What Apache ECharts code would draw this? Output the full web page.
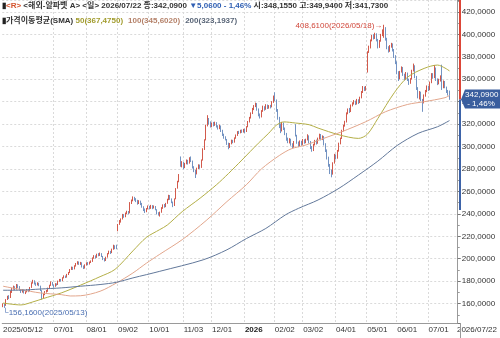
<!DOCTYPE html>
<html>
<head>
<meta charset="utf-8">
<script src="https://cdn.jsdelivr.net/npm/echarts@6/dist/echarts.min.js"></script>
<style>
  html, body { margin: 0; padding: 0; background: #fff; }
  #chart { width: 500px; height: 338px; }
</style>
</head>
<body>
<div id="chart"></div>
<script>
// 미국 거래일 (2025/05/12 ~ 2026/07/22)
const startDate = '2025-05-12'
const endDate = '2026-07-22'
const holidays = ['2025-05-26', '2025-06-19', '2025-07-04', '2025-09-01', '2025-11-27', '2025-12-25',
  '2026-01-01', '2026-01-19', '2026-02-16', '2026-04-03', '2026-05-25', '2026-06-19', '2026-07-03']

// [시가, 종가, 저가, 고가]
const candles = [
  [157.5,159.3,156.8,160.2],[159.0,158.2,156.16,160.0],[158.8,163.5,158.0,164.0],[164.0,166.2,163.2,167.0],[166.0,165.0,164.0,167.5],[165.5,170.5,165.0,171.5],[171.0,172.8,169.5,174.0],[173.5,174.8,172.5,176.0],[174.5,173.2,172.0,175.5],[173.0,176.5,172.5,177.5],
  [176.5,175.0,173.8,177.2],[175.0,172.5,171.8,175.6],[172.2,170.5,169.5,173.0],[170.8,172.0,169.8,172.8],[172.0,169.8,169.0,172.5],[169.5,170.2,168.5,171.0],[170.5,172.0,170.0,173.0],[171.8,171.0,170.2,172.6],[171.5,174.0,171.0,174.8],[174.5,178.5,174.0,179.0],
  [178.5,180.5,177.8,181.2],[180.0,177.8,177.0,180.8],[178.0,176.6,175.8,178.8],[176.8,178.2,176.2,179.0],[178.0,176.2,175.5,178.6],[175.8,172.0,171.2,176.0],[171.5,166.0,163.5,172.0],[166.5,167.8,164.5,169.0],[168.0,170.5,167.5,171.2],[170.8,171.2,169.8,172.2],
  [171.0,173.5,170.5,174.2],[173.8,176.0,173.0,176.8],[176.2,179.0,175.8,179.8],[178.8,176.5,176.0,179.2],[176.0,175.0,174.2,177.0],[175.5,177.5,175.0,178.2],[177.2,176.8,176.0,178.0],[177.0,179.8,176.6,180.5],[180.0,181.2,179.5,182.0],[181.0,180.2,179.5,182.0],
  [180.5,182.8,180.0,183.5],[183.0,184.5,182.5,185.2],[184.2,183.5,182.8,185.0],[183.8,185.8,183.2,186.5],[186.0,187.5,185.5,188.2],[187.8,190.0,187.2,190.8],[190.5,192.2,190.0,193.0],[192.0,190.8,190.0,192.8],[191.0,193.5,190.5,194.2],[193.8,195.5,193.0,196.2],
  [195.5,196.8,194.8,197.8],[197.0,195.2,194.5,197.6],[195.0,196.5,194.5,197.2],[196.2,193.0,192.2,196.8],[193.2,191.5,190.8,194.0],[191.8,194.2,191.2,195.0],[194.5,196.0,194.0,196.8],[196.2,195.0,194.2,197.0],[195.2,196.8,194.8,197.5],[197.0,197.5,196.2,198.5],
  [197.8,200.5,197.2,201.2],[200.8,202.5,200.0,203.2],[202.2,201.0,200.2,203.0],[201.2,203.8,200.8,204.5],[204.0,203.0,202.2,205.0],[203.2,204.5,202.5,205.5],[204.2,202.5,201.5,205.0],[202.0,199.5,198.8,202.5],[199.8,198.2,197.5,200.5],[198.5,201.0,198.0,201.8],
  [201.5,204.2,201.0,205.0],[204.5,206.5,204.0,207.2],[206.2,205.0,204.2,207.0],[205.5,208.2,205.0,209.0],[208.5,211.5,208.0,212.5],[211.2,209.5,208.5,212.0],[211.5,209.8,208.5,212.5],[225.5,230.0,224.5,231.0],[231.0,233.5,230.2,234.5],[233.0,235.0,232.2,236.0],
  [235.5,239.2,235.0,240.0],[239.0,237.2,236.5,239.8],[237.5,240.5,237.0,241.2],[240.8,241.8,239.8,242.8],[241.5,240.5,239.5,242.5],[241.0,249.5,240.5,250.5],[249.5,251.8,248.8,252.8],[252.0,254.5,251.2,255.6],[254.2,253.0,251.8,255.2],[253.2,251.5,250.5,254.0],
  [251.8,249.5,248.2,252.5],[249.8,251.2,248.8,252.2],[251.0,249.0,247.8,251.8],[249.2,246.5,245.5,249.8],[246.2,243.5,242.5,246.8],[243.8,242.0,240.8,244.8],[242.2,244.5,241.5,245.2],[244.8,246.8,244.0,247.5],[246.5,244.8,244.0,247.2],[245.0,247.2,244.5,248.0],
  [247.0,245.2,244.2,247.8],[245.5,246.5,244.8,247.5],[246.2,244.0,243.2,247.0],[243.8,240.5,239.5,244.2],[240.8,239.2,238.5,241.5],[239.0,241.0,237.6,242.0],[241.5,245.2,241.0,246.0],[245.0,247.5,244.5,248.5],[247.8,246.2,245.5,248.8],[246.5,249.0,246.0,249.8],
  [249.5,252.5,249.0,253.5],[252.8,256.0,252.2,257.0],[256.0,253.2,252.5,256.8],[253.0,250.5,249.5,253.8],[250.2,246.8,246.0,251.0],[247.5,253.0,247.0,253.8],[253.5,262.0,253.0,263.0],[263.0,268.5,262.5,269.5],[269.0,274.5,268.2,275.5],[289.5,283.5,282.0,291.2],
  [283.0,286.0,281.5,287.0],[285.5,281.0,279.8,286.2],[281.5,284.8,280.8,285.5],[285.0,287.5,284.2,288.5],[287.2,285.0,284.0,288.2],[285.2,289.8,284.8,290.5],[290.0,287.2,286.2,291.2],[287.0,281.5,280.5,287.5],[281.8,278.5,277.2,282.5],[278.8,275.5,272.0,279.2],
  [275.8,280.5,275.2,281.2],[280.8,283.5,280.0,284.2],[283.2,281.0,280.2,284.0],[281.5,287.8,281.0,288.5],[288.0,297.5,287.5,298.5],[298.0,305.5,297.0,306.5],[306.0,318.5,305.5,319.5],[319.0,324.5,318.0,328.0],[324.0,321.0,319.5,325.5],[321.5,318.2,317.0,322.5],
  [318.0,320.5,317.2,321.5],[320.8,319.0,318.0,322.0],[319.2,321.2,318.5,322.2],[321.0,318.0,317.0,321.8],[318.2,316.0,315.2,319.0],[316.2,318.5,315.5,319.5],[318.2,314.0,313.0,318.8],[314.2,310.5,309.5,315.0],[310.8,308.0,307.0,311.5],[308.2,306.5,305.5,309.2],
  [306.0,302.5,301.5,306.8],[302.8,299.0,297.6,303.5],[299.5,302.5,298.8,303.2],[302.8,305.5,302.0,306.2],[305.2,303.8,303.0,306.0],[304.0,307.5,303.5,308.2],[307.8,310.0,307.0,310.8],[310.2,313.0,309.5,313.8],[313.2,312.0,311.2,314.0],[312.2,314.2,311.8,315.0],
  [314.0,313.0,312.2,315.2],[313.2,315.0,312.5,315.8],[315.2,313.0,312.0,316.0],[313.5,317.5,313.0,318.2],[317.8,322.0,317.2,322.8],[322.2,325.5,321.5,326.5],[325.8,329.5,325.0,330.5],[329.8,333.5,329.0,334.5],[333.8,336.0,332.5,337.0],[336.2,338.5,335.2,339.2],
  [338.0,333.0,332.0,338.8],[333.2,328.0,327.0,334.0],[328.2,326.0,325.0,329.5],[326.5,331.5,326.0,332.5],[331.8,335.5,331.0,336.5],[335.2,333.0,332.0,336.0],[333.2,336.8,332.8,337.8],[336.5,334.5,333.5,337.5],[334.8,336.2,333.8,337.0],[336.0,335.0,334.0,337.2],
  [335.2,339.5,335.0,340.5],[339.8,344.5,339.0,345.5],[344.8,342.0,340.5,348.4],[341.5,333.0,331.0,342.0],[332.5,325.5,324.0,333.5],[325.8,318.0,316.5,326.5],[318.5,314.0,312.0,320.5],[314.2,320.5,313.5,322.0],[320.2,316.0,314.8,321.5],[316.2,311.5,310.2,317.0],
  [311.2,306.5,305.2,312.2],[306.8,304.0,303.0,308.0],[304.2,306.5,302.8,307.5],[306.2,302.0,300.8,307.0],[302.2,299.5,298.5,303.0],[299.8,304.0,299.0,305.0],[318.5,310.0,309.0,320.0],[309.5,303.5,302.5,310.5],[303.8,301.0,299.5,304.5],[301.2,304.5,300.5,305.5],
  [304.2,302.0,300.8,305.2],[302.2,305.8,301.5,306.8],[305.5,303.5,302.5,306.5],[303.8,306.0,303.0,307.0],[306.2,309.5,305.5,311.0],[309.2,304.0,302.8,310.0],[304.2,299.0,297.8,305.0],[299.2,296.5,295.4,300.5],[296.8,301.5,296.0,302.5],[301.8,305.0,301.0,306.0],
  [305.2,303.0,301.8,306.2],[303.2,307.0,302.5,308.0],[307.2,310.5,306.5,311.5],[310.2,306.5,305.5,311.2],[306.8,309.0,305.8,310.0],[308.8,302.0,301.0,309.5],[302.2,296.5,295.2,303.0],[296.8,290.0,288.5,297.5],[290.2,283.5,282.0,291.0],[283.8,277.5,275.5,284.5],
  [277.2,275.0,272.6,279.5],[275.5,285.0,275.0,286.0],[285.2,292.5,284.8,293.5],[292.2,289.5,288.5,293.0],[289.8,296.0,289.2,297.0],[296.2,302.5,295.5,303.5],[302.8,307.0,302.0,308.0],[307.2,314.0,306.8,315.0],[314.2,318.5,313.5,319.5],[318.8,322.0,317.8,323.0],
  [322.2,329.5,321.5,330.5],[329.8,333.0,328.8,334.0],[333.2,331.0,330.0,334.5],[331.2,336.5,330.8,337.5],[336.8,338.5,335.8,339.5],[338.2,340.5,337.5,341.5],[340.2,338.0,337.0,341.0],[338.2,341.5,337.5,342.5],[341.2,339.0,338.0,342.2],[339.2,343.5,338.8,344.5],
  [343.8,348.5,343.0,349.5],[348.8,352.5,347.8,354.0],[352.2,350.5,349.5,353.5],[350.5,353.0,349.8,354.0],[367.0,384.0,366.0,385.0],[384.5,388.5,383.5,390.0],[388.2,394.5,387.5,395.5],[394.8,398.5,393.8,399.5],[398.2,396.5,395.5,400.2],[396.8,400.5,396.0,401.5],
  [400.2,395.0,393.8,401.0],[395.2,388.5,387.5,396.0],[388.8,394.0,388.0,395.0],[394.2,399.0,393.5,400.5],[399.5,403.5,398.5,404.5],[398.5,406.0,397.0,408.61],[405.5,396.0,394.5,406.5],[396.2,388.0,386.8,397.0],[388.2,385.0,383.8,389.5],[385.2,389.5,384.5,390.5],
  [389.2,391.0,388.2,392.5],[391.2,386.0,384.8,392.0],[386.2,380.5,379.0,387.0],[380.8,375.0,373.5,381.5],[375.2,366.0,364.5,376.0],[366.2,360.5,358.5,367.2],[360.8,366.5,360.0,367.5],[366.8,370.5,366.0,371.5],[370.2,364.0,363.0,371.0],[364.2,360.0,359.0,365.0],
  [360.2,365.5,359.5,366.5],[365.2,359.5,358.5,366.0],[359.8,356.5,355.0,360.5],[356.8,360.0,356.0,361.0],[360.2,367.5,359.8,368.5],[367.8,372.0,367.0,374.0],[371.8,362.0,361.0,372.5],[362.2,352.0,350.5,363.0],[352.2,344.5,343.0,353.0],[344.8,348.5,342.0,349.5],
  [348.2,341.5,340.5,349.0],[341.8,339.0,331.0,342.5],[339.2,345.5,338.5,346.5],[345.2,349.5,344.5,350.5],[349.2,353.5,348.5,354.5],[353.2,350.5,349.5,354.0],[350.8,357.0,350.2,358.0],[357.2,364.5,356.5,365.5],[364.2,361.5,360.5,365.5],[361.8,370.0,361.0,372.7],
  [369.8,359.5,358.5,370.5],[359.8,356.0,354.8,360.8],[356.2,359.5,355.5,360.5],[359.2,362.5,358.0,363.5],[366.0,354.5,350.5,373.0],[354.2,357.5,352.0,359.0],[357.2,353.0,352.0,358.5],[352.8,349.0,347.8,353.5],[349.2,347.15,345.5,350.5],[348.155,342.09,341.73,349.94]
]

// 이동평균 [거래일 번호, 값]
const ma50 = [[0,160.5],[12,158.8],[20,161.5],[27,164.5],[39,169.5],[52,176.5],[65,184],[75,190.5],[87,207],[96,219],[105,226],[110,230],[120,242],[132,254],[143,266],[151,276],[160,288],[171,303],[178,312],[183,319],[188,322],[196,321],[205,319.5],[211,316.5],[225,310.5],[238,307.3],[244,311],[251,325],[262,348],[271,362],[282,369.7],[291,372.7],[296,370],[299,367.475]]
const ma100 = [[0,175.5],[12,172.5],[25,169.5],[39,168],[45,166.8],[52,167],[65,171],[76,178.4],[87,187.3],[96,196],[105,204],[120,217],[136,234],[150,251],[163,266],[173,280],[185,292],[193,298],[203,301.5],[211,305.5],[227,313.3],[243,322.2],[256,331],[271,337.6],[282,340],[296,343.6],[299,345.602]]
const ma200 = [[0,171.9],[12,172],[25,173],[39,174],[52,175.5],[65,177],[76,179],[87,182.9],[96,185.8],[105,188.8],[134,199],[150,208],[163,218],[176,227],[189,239],[198,245],[211,252.4],[225,262.8],[238,274.6],[251,287],[264,301],[278,311.8],[291,317.7],[299,323.1937]]

const highIdx = 255
const lowIdx = 1
const bandLow = 243.5   // 축 파란 구간 하단

const FONT = '"Liberation Sans", "Noto Sans CJK KR", sans-serif'
const FS = 8
const UP = '#d25a4c'
const DOWN = '#7393c2'
const GRID_RIGHT = 40

const dates = []
for (let d = new Date(startDate + 'T00:00:00Z'); d <= new Date(endDate + 'T00:00:00Z'); d.setUTCDate(d.getUTCDate() + 1)) {
  const s = d.toISOString().slice(0, 10)
  const wd = d.getUTCDay()
  if (wd === 0 || wd === 6 || holidays.includes(s)) continue
  dates.push(s)
}
// 오른쪽 여백 칸
const cats = dates.concat(['p1', 'p2', 'p3', 'p4', 'p5'])
const lastSlot = cats.length - 1

const fmt = v => v.toFixed(4).replace('.', ',')
// 첫 라벨과 겹치는 6월은 생략
const isMonthStart = i => i > 20 && i < dates.length && dates[i].slice(0, 7) !== dates[i - 1].slice(0, 7)
const isLabel = i => i === 0 || i === lastSlot || isMonthStart(i)

const last = candles[candles.length - 1]
const prevClose = candles[candles.length - 2][1]
const diff = last[1] - prevClose
const pct = Math.abs(diff / prevClose * 100).toFixed(2).replace('.', ',')
const lastDate = dates[dates.length - 1].replace(/-/g, '/')

const yMin = 142.7
const yMax = 430.7

const chart = echarts.init(document.getElementById('chart'))

const rs = (color, extra) => Object.assign({ color, fontSize: FS, fontFamily: FONT, lineHeight: 10 }, extra || {})

chart.setOption({
  animation: false,
  title: [
    {
      left: 0, top: 0, padding: [1, 2],
      text: `{k|▮}{r|<R>}{t| <해외-알파벳 A> <일> ${lastDate} 종:${fmt(last[1])} }{b|${diff < 0 ? '▼' : '▲'}${fmt(Math.abs(diff))} - ${pct}%}{t| 시:${fmt(last[0])} 고:${fmt(last[3])} 저:${fmt(last[2])}}`,
      textStyle: { rich: { k: rs('#222'), r: rs('#d4552f'), t: rs('#333'), b: rs('#2f5fb3') } }
    },
    {
      left: 0, top: 11, padding: [1, 2],
      text: `{k|▮}{t|가격이동평균(SMA) }{a|50(${fmt(ma50[ma50.length - 1][1])})} {b|100(${fmt(ma100[ma100.length - 1][1])})} {c|200(${fmt(ma200[ma200.length - 1][1])})}`,
      textStyle: { rich: { k: rs('#222'), t: rs('#333'), a: rs('#a29c2e'), b: rs('#b5826a'), c: rs('#5a6678') } }
    }
  ],
  grid: { left: 1, right: GRID_RIGHT, top: 0, bottom: 15 },
  xAxis: {
    type: 'category',
    data: cats,
    boundaryGap: true,
    axisLine: { lineStyle: { color: '#9a9a9a' } },
    axisTick: { interval: isLabel, alignWithLabel: true, length: 5, lineStyle: { color: '#777' } },
    axisLabel: {
      interval: isLabel,
      align: 'left',
      margin: 3,
      fontSize: FS,
      fontFamily: FONT,
      color: '#333',
      formatter: (value, i) => {
        if (i === 0) return dates[0].replace(/-/g, '/')
        if (i === lastSlot) return lastDate
        const d = dates[i]
        if (d.slice(5, 7) === '01') return '{y|' + d.slice(0, 4) + '}'
        return d.slice(5).replace('-', '/')
      },
      rich: { y: { fontWeight: 'bold', fontSize: FS, fontFamily: FONT, color: '#222' } }
    },
    splitLine: { show: true, interval: isMonthStart, lineStyle: { color: '#dadada', type: [2, 2] } }
  },
  yAxis: {
    type: 'value',
    position: 'right',
    min: yMin,
    max: yMax,
    splitNumber: 14,
    axisLine: { show: true, lineStyle: { color: '#9a9a9a' } },
    axisTick: { show: true, length: 3, lineStyle: { color: '#777' } },
    minorTick: { show: true, splitNumber: 2, length: 2, lineStyle: { color: '#999' } },
    axisLabel: { showMinLabel: false, showMaxLabel: false, margin: 4, fontSize: FS, fontFamily: FONT, color: '#333', formatter: fmt },
    splitLine: { lineStyle: { color: '#dadada', type: [2, 2] } }
  },
  series: [
    {
      type: 'candlestick',
      data: candles,
      barWidth: 1,
      itemStyle: { color: UP, color0: DOWN, borderColor: UP, borderColor0: DOWN, borderWidth: 1 },
      markPoint: {
        symbol: 'circle',
        symbolSize: 1,
        itemStyle: { color: 'rgba(0,0,0,0)' },
        data: [
          {
            coord: [highIdx, candles[highIdx][3]],
            label: { show: true, position: 'left', distance: 1, offset: [0, 1], formatter: `${fmt(candles[highIdx][3])}(${dates[highIdx].replace(/-/g, '/')})→`, color: '#d0473a', fontSize: FS, fontFamily: FONT }
          },
          {
            coord: [lowIdx, candles[lowIdx][2]],
            label: { show: true, position: [-1, 1], align: 'left', verticalAlign: 'top', formatter: `└${fmt(candles[lowIdx][2])}(${dates[lowIdx].replace(/-/g, '/')})`, color: '#4a6fb2', fontSize: FS, fontFamily: FONT }
          }
        ]
      }
    },
    { name: 'SMA50', type: 'line', data: ma50, showSymbol: false, smooth: 0.3, lineStyle: { color: '#b3ae46', width: 1 } },
    { name: 'SMA100', type: 'line', data: ma100, showSymbol: false, smooth: 0.3, lineStyle: { color: '#e2a68c', width: 1 } },
    { name: 'SMA200', type: 'line', data: ma200, showSymbol: false, smooth: 0.3, lineStyle: { color: '#62789a', width: 1 } }
  ]
})

// 가격축 색 구간과 현재가 박스
const py = v => chart.convertToPixel({ yAxisIndex: 0 }, v)
const gx = chart.getWidth() - GRID_RIGHT
const yP = py(last[1])
chart.setOption({
  graphic: [
    { type: 'line', z: 100, shape: { x1: gx, y1: py(yMax), x2: gx, y2: yP }, style: { stroke: '#dc4638', lineWidth: 2 } },
    { type: 'line', z: 100, shape: { x1: gx, y1: yP, x2: gx, y2: py(bandLow) }, style: { stroke: '#3d63a8', lineWidth: 2 } },
    { type: 'line', z: 100, shape: { x1: gx + 0.5, y1: py(yMin), x2: gx + 0.5, y2: chart.getHeight() }, style: { stroke: '#9a9a9a', lineWidth: 1 } },
    {
      type: 'polygon', z: 101,
      shape: { points: [[gx + 1, yP], [gx + 5, yP - 10], [chart.getWidth(), yP - 10], [chart.getWidth(), yP + 9], [gx + 5, yP + 9]] },
      style: { fill: '#3a5e9e' }
    },
    {
      type: 'text', z: 102, x: gx + 5, y: yP - 9,
      style: { text: `${fmt(last[1])}\n - ${pct}%`, fill: '#fff', font: `${FS}px ${FONT}`, lineHeight: 9 }
    }
  ]
})
</script>
</body>
</html>
